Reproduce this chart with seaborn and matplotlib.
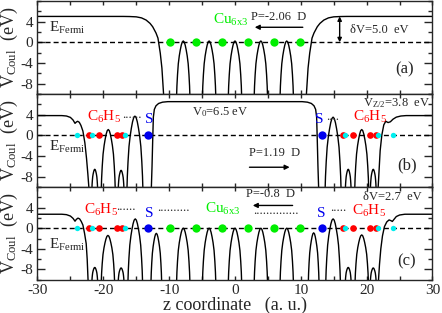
import matplotlib
matplotlib.use("Agg")
import matplotlib.pyplot as plt
import seaborn as sns
from matplotlib.ticker import MultipleLocator

# ---------------- data ----------------
# arch profile (fraction of half width, fraction of height above -10 eV)
arch_u = [-1.04, -1.0, -0.96, -0.87, -0.75, -0.6, -0.45, -0.3, -0.15, 0.0,
          0.15, 0.3, 0.45, 0.6, 0.75, 0.87, 0.96, 1.0, 1.04]
arch_w = [-0.05, 0.0, 0.15, 0.36, 0.57, 0.72, 0.83, 0.92, 0.98, 1.0,
          0.98, 0.92, 0.83, 0.72, 0.57, 0.36, 0.15, 0.0, -0.05]

# panel (a): Cu6x3
a_left_z = [-30, -17.0, -16.0, -15.0, -14.2, -13.5, -12.9, -12.5, -12.0, -11.7, -11.35, -11.1, -10.95, -10.85, -10.8]
a_left_v = [5.0, 5.0, 4.98, 4.92, 4.72, 4.3, 3.65, 3.0, 1.8, 0.8, -2.1, -5.0, -8.0, -10.0, -10.6]
a_right_z = [10.8, 10.85, 10.95, 11.1, 11.35, 11.7, 12.0, 12.5, 12.9, 13.5, 14.2, 15.0, 16.0, 17.0, 30]
a_right_v = [-10.6, -10.0, -8.0, -5.0, -2.1, 0.8, 1.8, 3.0, 3.65, 4.3, 4.72, 4.92, 4.98, 5.0, 5.0]
a_arch_z = [-7.86, -3.93, 0.0, 3.93, 7.86]
a_arch_v = [0.25, 0.25, 0.25, 0.25, 0.25]
a_arch_w = [1.0, 1.0, 1.0, 1.0, 1.0]

# panel (b): C6H5-S ... S-C6H5
b_left_z = [-30, -26.3, -25.6, -25.0, -24.6, -24.3, -24.1, -23.9, -23.65, -23.4, -23.1, -22.8, -22.55, -22.35, -22.2, -22.15]
b_left_v = [3.8, 3.8, 3.72, 3.45, 2.95, 2.3, 2.55, 2.7, 2.5, 1.9, 0.8, -1.5, -4.5, -7.5, -10.0, -10.6]
b_mid_z = [-12.75, -12.7, -12.6, -12.5, -12.4, -12.25, -12.0, -11.6, -11.0, -10.2,
           10.2, 11.0, 11.6, 12.0, 12.25, 12.4, 12.5, 12.6, 12.7, 12.75]
b_mid_v = [-10.6, -10.0, -6.0, -1.0, 3.5, 5.0, 5.7, 6.15, 6.4, 6.5,
           6.5, 6.4, 6.15, 5.7, 5.0, 3.5, -1.0, -6.0, -10.0, -10.6]
b_right_z = [21.7, 21.75, 21.9, 22.05, 22.3, 22.6, 22.9, 23.25, 23.6, 24.0, 24.5, 25.2, 26.0, 30]
b_right_v = [-10.6, -10.0, -6.5, -3.0, 0.0, 2.0, 2.7, 2.45, 2.6, 3.1, 3.5, 3.72, 3.8, 3.8]
b_arch_z = [-21.3, -19.25, -17.3, -15.2, 14.9, 17.2, 19.25, 21.0]
b_arch_v = [-6.6, 1.1, -6.8, 3.7, 3.5, -6.6, 1.1, -6.6]
b_arch_w = [0.42, 1.05, 0.42, 1.2, 1.2, 0.42, 1.05, 0.42]

# panel (c): C6H5-S-Cu6x3-S-C6H5
c_left_z = [-30, -26.3, -25.6, -25.0, -24.6, -24.3, -24.1, -23.85, -23.6, -23.35, -23.1, -22.85, -22.6, -22.45, -22.32, -22.28]
c_left_v = [2.7, 2.7, 2.62, 2.35, 1.9, 1.35, 1.7, 1.95, 1.8, 1.3, 0.6, -1.0, -3.0, -6.0, -10.0, -10.6]
c_right_z = [21.75, 21.8, 21.95, 22.15, 22.4, 22.7, 23.05, 23.4, 23.7, 23.9, 24.15, 24.5, 25.0, 25.8, 30]
c_right_v = [-10.6, -10.0, -7.0, -4.0, -1.5, 0.3, 1.2, 1.6, 1.45, 1.3, 1.7, 2.25, 2.55, 2.7, 2.7]
c_arch_z = [-21.3, -19.3, -17.3, -15.15, -11.95, -7.86, -3.93, 0.0, 3.93, 7.86, 11.95, 14.9, 17.2, 19.25, 21.0]
c_arch_v = [-7.6, -1.4, -7.7, 1.8, -1.0, 0.0, 0.0, 0.0, 0.0, 0.0, -0.9, 1.8, -7.6, -1.3, -7.7]
c_arch_w = [0.42, 1.0, 0.42, 1.1, 0.8, 1.0, 1.0, 1.0, 1.0, 1.0, 0.8, 1.1, 0.42, 1.0, 0.42]

# atom positions along z (a.u.)
cu_z = [-9.85, -5.88, -1.96, 1.96, 5.88, 9.85]
s_z = [-13.17, 13.15]
c_z = [-22.1, -20.58, -17.95, -17.13, 16.4, 17.92, 20.55, 21.35]
h_z = [-24.03, -21.68, -16.73, 16.75, 21.65, 24.0]

GREEN, RED, BLUE, CYAN = "#00ee00", "#ff0000", "#0000ee", "#00eeee"

# ---------------- style ----------------
sns.set_style("ticks")
plt.rcParams["font.family"] = ["Liberation Serif", "DejaVu Serif"]
plt.rcParams["mathtext.fontset"] = "custom"
plt.rcParams["mathtext.rm"] = "Liberation Serif"
plt.rcParams["mathtext.it"] = "Liberation Serif:italic"
plt.rcParams["axes.unicode_minus"] = False
plt.rcParams["axes.linewidth"] = 1.0

fig = plt.figure(figsize=(4.42, 3.13), dpi=100)
left, width, h = 0.0848, 0.8937, 0.297
ax_a = fig.add_axes([left, 0.700, width, h])
ax_b = fig.add_axes([left, 0.403, width, h])
ax_c = fig.add_axes([left, 0.106, width, h])


def curve(ax, z, v):
    sns.lineplot(x=z, y=v, sort=False, estimator=None, color="k", lw=1.0, ax=ax)


def arches(ax, centers, peaks, widths):
    for c, p, w in zip(centers, peaks, widths):
        z = [c + u * w for u in arch_u]
        v = [-10 + (p + 10) * f for f in arch_w]
        curve(ax, z, v)


def atoms(ax, z, color, size):
    sns.scatterplot(x=z, y=[0] * len(z), color=color, s=size, linewidth=0, zorder=5, ax=ax)


def setup(ax, bottom=False):
    ax.axhline(0, color="k", lw=1.0, ls=(0, (3.6, 2.2)), zorder=1)
    ax.set_xlim(-30, 30)
    ax.set_ylim(-10, 8)
    ax.set_xticks(range(-30, 31, 10))
    ax.xaxis.set_minor_locator(MultipleLocator(5))
    ax.set_yticks([-8, -4, 0, 4])
    ax.yaxis.set_minor_locator(MultipleLocator(2))
    ax.tick_params(which="both", direction="in", top=True, right=True, width=1.0,
                   labelsize=11, pad=3)
    ax.tick_params(axis="y", which="major", length=5.5)
    ax.tick_params(axis="y", which="minor", length=3)
    ax.tick_params(axis="x", which="both", length=3)
    if not bottom:
        ax.tick_params(axis="x", labelbottom=False)
    ax.set_xlabel("")
    ax.set_ylabel("V$_{\\rm Coul}$  (eV)", fontsize=13)
    ax.yaxis.set_label_coords(-0.045, 0.5)


def arrow(ax, x0, x1, y, style="-|>"):
    ax.annotate("", xy=(x1, y), xytext=(x0, y),
                arrowprops=dict(arrowstyle=style, color="k", lw=1.0,
                                mutation_scale=7, shrinkA=0, shrinkB=0))


# ---------------- panel (a) ----------------
curve(ax_a, a_left_z, a_left_v)
curve(ax_a, a_right_z, a_right_v)
arches(ax_a, a_arch_z, a_arch_v, a_arch_w)
atoms(ax_a, cu_z, GREEN, 36)
setup(ax_a)
ax_a.text(-28.3, 2.0, "E$_{\\rm Fermi}$", fontsize=11)
ax_a.text(-3.4, 3.5, "Cu$_{\\rm 6x3}$", color=GREEN, fontsize=11)
ax_a.text(2.5, 4.3, "P=-2.06  D", fontsize=9)
arrow(ax_a, 10.3, 3.0, 2.9)
ax_a.annotate("", xy=(15.9, 5.0), xytext=(15.9, 0.0),
              arrowprops=dict(arrowstyle="<|-|>", color="k", lw=1.0,
                              mutation_scale=6, shrinkA=0, shrinkB=0))
ax_a.text(17.4, 1.8, "δV=5.0  eV", fontsize=9)
ax_a.text(24.3, -6.0, "(a)", fontsize=12)

# ---------------- panel (b) ----------------
curve(ax_b, b_left_z, b_left_v)
curve(ax_b, b_mid_z, b_mid_v)
curve(ax_b, b_right_z, b_right_v)
arches(ax_b, b_arch_z, b_arch_v, b_arch_w)
atoms(ax_b, c_z, RED, 23)
atoms(ax_b, h_z, CYAN, 15)
atoms(ax_b, s_z, BLUE, 36)
setup(ax_b)
ax_b.text(19.4, 5.6, "V$_{\\rm Z/2}$=3.8  eV", fontsize=9)
ax_b.text(-22.55, 2.7, "C$_6$H$_5$", color=RED, fontsize=11)
ax_b.text(-17.1, 3.3, "......", fontsize=9)
ax_b.text(-13.6, 2.4, "S", color=BLUE, fontsize=11)
ax_b.text(-6.6, 3.9, "V$_0$=6.5 eV", fontsize=9)
ax_b.text(12.1, 2.4, "S", color=BLUE, fontsize=11)
ax_b.text(13.9, 3.0, "....", fontsize=9)
ax_b.text(17.9, 2.7, "C$_6$H$_5$", color=RED, fontsize=11)
ax_b.text(-28.3, -3.1, "E$_{\\rm Fermi}$", fontsize=11)
ax_b.text(2.2, -4.1, "P=1.19  D", fontsize=9)
arrow(ax_b, 2.2, 8.3, -6.2)
ax_b.text(24.7, -6.6, "(b)", fontsize=12)

# ---------------- panel (c) ----------------
curve(ax_c, c_left_z, c_left_v)
curve(ax_c, c_right_z, c_right_v)
arches(ax_c, c_arch_z, c_arch_v, c_arch_w)
atoms(ax_c, c_z, RED, 23)
atoms(ax_c, h_z, CYAN, 15)
atoms(ax_c, s_z, BLUE, 36)
atoms(ax_c, cu_z, GREEN, 36)
setup(ax_c, bottom=True)
ax_c.text(1.7, 6.0, "P=-0.8  D", fontsize=9)
arrow(ax_c, 8.75, 2.7, 4.4)
ax_c.text(19.4, 5.4, "δV=2.7  eV", fontsize=9)
ax_c.text(-22.9, 2.8, "C$_6$H$_5$", color=RED, fontsize=11)
ax_c.text(-18.0, 3.6, "......", fontsize=9)
ax_c.text(-13.7, 2.1, "S", color=BLUE, fontsize=11)
ax_c.text(-11.9, 3.3, "..........", fontsize=9)
ax_c.text(-4.5, 2.9, "Cu$_{\\rm 6x3}$", color=GREEN, fontsize=11)
ax_c.text(2.7, 2.7, "..............", fontsize=9)
ax_c.text(12.4, 2.1, "S", color=BLUE, fontsize=11)
ax_c.text(14.4, 3.3, ".....", fontsize=9)
ax_c.text(17.7, 2.6, "C$_6$H$_5$", color=RED, fontsize=11)
ax_c.text(-28.2, -4.0, "E$_{\\rm Fermi}$", fontsize=11)
ax_c.text(24.6, -7.2, "(c)", fontsize=12)
ax_c.set_xlabel("z coordinate   (a. u.)", fontsize=13, labelpad=0)

fig.savefig("out.png", dpi=100)
